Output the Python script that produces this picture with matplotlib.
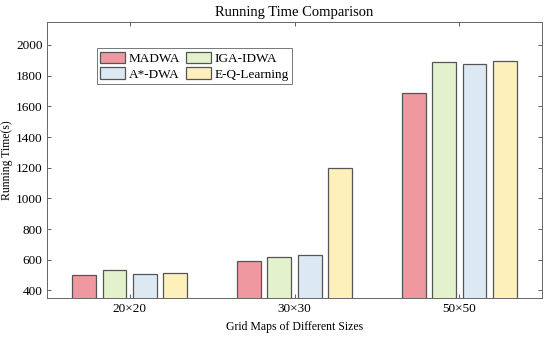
import matplotlib.pyplot as plt
import numpy as np

plt.rcParams['font.family'] = ['Liberation Serif', 'DejaVu Serif']

groups = ['20\u00d720', '30\u00d730', '50\u00d750']
methods = ['MADWA', 'IGA-IDWA', 'A*-DWA', 'E-Q-Learning']
madwa = [500, 595, 1686]
iga_idwa = [533, 621, 1889]
astar_dwa = [507, 632, 1878]
eq_learning = [511, 1195, 1898]
colors = ['#F0989F', '#E3F1CC', '#DCE9F3', '#FEF0BB']

series = [madwa, iga_idwa, astar_dwa, eq_learning]
x = np.arange(1, len(groups) + 1)
offsets = [-0.275, -0.092, 0.092, 0.275]
width = 0.145

fig, ax = plt.subplots(figsize=(5.5, 3.38), dpi=100)
fig.subplots_adjust(left=0.086, right=0.985, top=0.935, bottom=0.118)

bars = []
for vals, off, col, name in zip(series, offsets, colors, methods):
    b = ax.bar(x + off, vals, width, color=col, edgecolor='#555555',
               linewidth=0.9, label=name)
    bars.append(b)

ax.set_xlim(0.5, 3.5)
ax.set_ylim(350, 2150)
ax.set_xticks(x)
ax.set_xticklabels(groups)
ax.set_yticks(np.arange(400, 2001, 200))
ax.tick_params(direction='in', top=True, right=True, labelsize=9.5,
               color='#444444', length=3, width=0.6)
for s in ax.spines.values():
    s.set_color('#666666')
    s.set_linewidth(0.7)

ax.set_title('Running Time Comparison', fontsize=10.5, pad=4)
ax.set_xlabel('Grid Maps of Different Sizes', fontsize=8.5)
ax.set_ylabel('Running Time(s)', fontsize=8.5, labelpad=2)

# matplotlib fills legend columns first; reorder so rows read left to right
order = [0, 2, 1, 3]
leg = ax.legend([bars[i] for i in order], [methods[i] for i in order],
                ncol=2, loc='upper left', bbox_to_anchor=(0.1, 0.905),
                fontsize=9.5, frameon=True, fancybox=False,
                handlelength=1.9, handleheight=0.95, handletextpad=0.3,
                columnspacing=0.4, borderpad=0.25, labelspacing=0.2,
                borderaxespad=0)
leg.get_frame().set_edgecolor('#555555')
leg.get_frame().set_linewidth(0.7)

fig.savefig('out.png', dpi=100)
